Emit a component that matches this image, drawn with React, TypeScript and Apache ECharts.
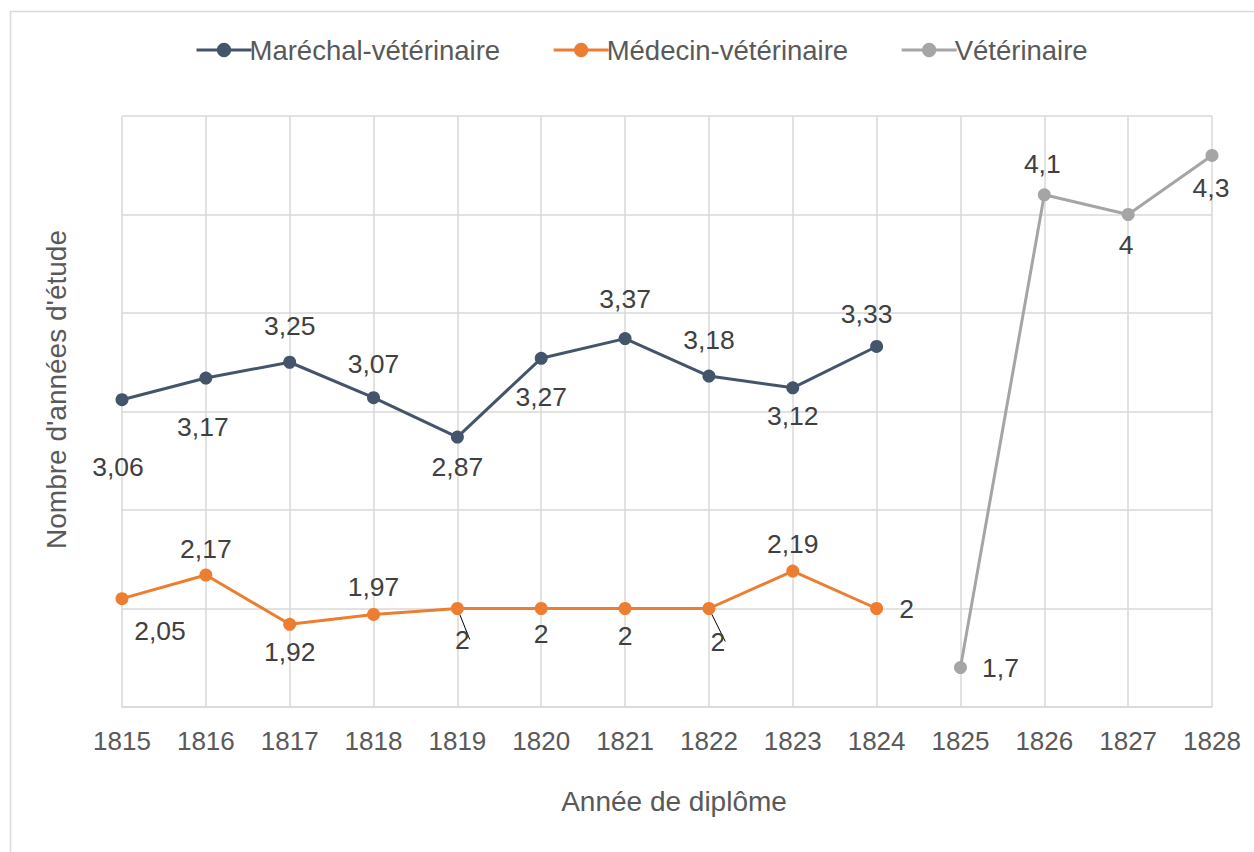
import React, { useEffect, useRef } from "react";
import * as echarts from "echarts";

const years = ["1815", "1816", "1817", "1818", "1819", "1820", "1821", "1822", "1823", "1824", "1825", "1826", "1827", "1828"];
const marechal = [3.06, 3.17, 3.25, 3.07, 2.87, 3.27, 3.37, 3.18, 3.12, 3.33, null, null, null, null];
const medecin = [2.05, 2.17, 1.92, 1.97, 2, 2, 2, 2, 2.19, 2, null, null, null, null];
const veterinaire = [null, null, null, null, null, null, null, null, null, null, 1.7, 4.1, 4, 4.3];

// label placement offsets (dx, dy) relative to the point
const marechalLabelOffsets = [[-4, 67], [-3, 49], [0, -36], [0, -34], [0, 30], [0, 39], [0, -40], [0, -36], [0, 28], [-10, -32]];
const medecinLabelOffsets = [[38, 32], [0, -26], [0, 28], [0, -27], [5, 31], [0, 25], [0, 27], [9, 33], [0, -27], [30, 0]];
const veterinaireLabelOffsets = [[40, 0], [-2, -31], [-2, 30], [-1, 33]];
const leaderLineIdx = [4, 7];

const FONT = "'Liberation Sans', Arial, sans-serif";

function buildData(values: (number | null)[], offsets: number[][], startIdx: number, leaders: number[] = []) {
  return values.map((v, i) => {
    if (v == null) return null;
    const off = offsets[i - startIdx];
    const item: any = {
      value: v,
      label: { position: "inside", offset: off },
    };
    if (leaders.includes(i)) {
      item.labelLine = { show: true, lineStyle: { color: "#000", width: 1 } };
    }
    return item;
  });
}

export default function App() {
  const ref = useRef<HTMLDivElement>(null);
  useEffect(() => {
    if (!ref.current) return;
    const chart = echarts.init(ref.current, undefined, { renderer: "svg" });
    const labelStyle = {
      show: true,
      fontSize: 26.5,
      fontFamily: FONT,
      color: "#404040",
      formatter: (p: any) => String(p.value).replace(".", ","),
    };
    const mkSeries = (name: string, color: string, data: any[]) => ({
      name,
      type: "line",
      data,
      symbol: "circle",
      symbolSize: 13,
      connectNulls: false,
      lineStyle: { color, width: 3 },
      itemStyle: { color },
      label: labelStyle,
      emphasis: { disabled: true },
    });
    chart.setOption({
      animation: false,
      backgroundColor: "#fff",
      textStyle: { fontFamily: FONT },
      graphic: [
        {
          type: "rect",
          shape: { x: 10.5, y: 11.5, width: 1400, height: 1000 },
          style: { fill: "none", stroke: "#D9D9D9", lineWidth: 1.5 },
          silent: true,
          z: -10,
        },
      ],
      legend: {
        top: 31,
        left: 190,
        itemWidth: 55,
        itemHeight: 18,
        itemGap: 52,
        lineStyle: { width: 3 },
        textStyle: { fontSize: 27.5, color: "#595959", fontFamily: FONT, padding: [0, 0, 0, -7] },
        data: ["Maréchal-vétérinaire", "Médecin-vétérinaire", "Vétérinaire"],
      },
      grid: { left: 122, right: 42, top: 116, bottom: 145, containLabel: false },
      xAxis: {
        type: "category",
        data: years,
        boundaryGap: false,
        axisLine: { lineStyle: { color: "#D9D9D9", width: 1.5 } },
        axisTick: { show: false },
        axisLabel: { color: "#595959", fontSize: 26, fontFamily: FONT, margin: 21 },
        splitLine: { show: true, lineStyle: { color: "#D9D9D9", width: 1.5 } },
        name: "Année de diplôme",
        nameLocation: "middle",
        nameGap: 80,
        nameTextStyle: { color: "#595959", fontSize: 28, fontFamily: FONT, padding: [0, 0, 0, 14] },
      },
      yAxis: {
        type: "value",
        min: 1.5,
        max: 4.5,
        interval: 0.5,
        axisLine: { show: false },
        axisTick: { show: false },
        axisLabel: { show: false },
        splitLine: { lineStyle: { color: "#D9D9D9", width: 1.5 } },
        name: "Nombre d'années d'étude",
        nameLocation: "middle",
        nameRotate: 90,
        nameGap: 52,
        nameTextStyle: { color: "#595959", fontSize: 28, fontFamily: FONT, padding: [0, 0, 0, 44] },
      },
      series: [
        mkSeries("Maréchal-vétérinaire", "#44546A", buildData(marechal, marechalLabelOffsets, 0)),
        mkSeries("Médecin-vétérinaire", "#ED7D31", buildData(medecin, medecinLabelOffsets, 0, leaderLineIdx)),
        mkSeries("Vétérinaire", "#A5A5A5", buildData(veterinaire, veterinaireLabelOffsets, 10)),
      ],
    });
    return () => chart.dispose();
  }, []);
  return (
    <div
      ref={ref}
      style={{ position: "fixed", left: 0, top: 0, width: 1254, height: 852 }}
    />
  );
}
